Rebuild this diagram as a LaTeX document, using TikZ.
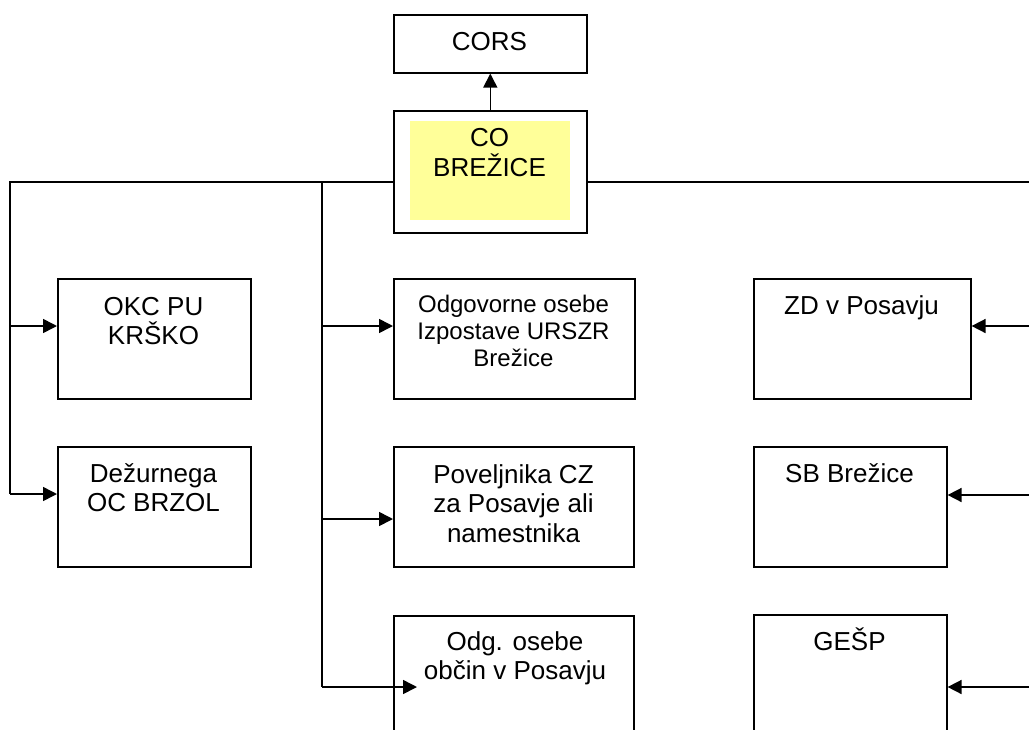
\documentclass[tikz,border=0pt]{standalone}
\usepackage{fontspec}
\setmainfont{Liberation Sans}
\usetikzlibrary{arrows.meta}
\definecolor{hl}{HTML}{FFFF99}
\begin{document}
\begin{tikzpicture}[x=1pt,y=-1pt,
  box/.style={draw, line width=1.6pt, inner sep=0pt, anchor=north west},
  lbl/.style={font=\fontsize{26}{29.5}\selectfont, align=center, anchor=north, inner sep=0pt},
  lbls/.style={font=\fontsize{24}{27}\selectfont, align=center, anchor=north, inner sep=0pt},
  conn/.style={line width=1.6pt},
  arr/.style={conn, -{Triangle[length=14pt,width=14pt]}}]
\clip (0,0) rectangle (1029,729);
\fill[white] (0,0) rectangle (1029,729);
% highlight inside CO box
\fill[hl] (410,121) rectangle (570,220);
% boxes
\node[box, minimum width=193pt, minimum height=58pt] (cors) at (393,14) {};
\node[box, minimum width=193pt, minimum height=122pt] (co) at (393,110) {};
\node[box, minimum width=193pt, minimum height=120pt] (okc) at (57,278) {};
\node[box, minimum width=193pt, minimum height=120pt] (dez) at (57,446) {};
\node[box, minimum width=241pt, minimum height=120pt] (odgov) at (393,278) {};
\node[box, minimum width=240pt, minimum height=120pt] (pov) at (393,446) {};
\node[box, minimum width=240pt, minimum height=140pt] (odg) at (393,615) {};
\node[box, minimum width=217pt, minimum height=120pt] (zd) at (753,278) {};
\node[box, minimum width=193pt, minimum height=120pt] (sb) at (753,446) {};
\node[box, minimum width=193pt, minimum height=140pt] (gesp) at (753,614) {};
% texts
\node[lbl] (corsT) at (489.5,24) {\rule{0pt}{26pt}CORS};
\node[lbl, font=\fontsize{26}{30}\selectfont] (coT) at (489.5,120) {\rule{0pt}{26pt}CO\\BREŽICE};
\node[lbl] (okcT) at (153.5,289) {\rule{0pt}{26pt}OKC PU\\KRŠKO};
\node[lbl] (dezT) at (153.5,456) {\rule{0pt}{26pt}Dežurnega\\OC BRZOL};
\node[lbls] (odgovT) at (513.5,288) {\rule{0pt}{24pt}Odgovorne osebe\\Izpostave URSZR\\Brežice};
\node[lbl] (povT) at (513.5,457) {\rule{0pt}{26pt}Poveljnika CZ\\za Posavje ali\\namestnika};
\node[lbl] (odgT) at (515,624) {\rule{0pt}{26pt}Odg. osebe\\občin v Posavju};
\node[lbl] (zdT) at (861.5,288) {\rule{0pt}{26pt}ZD v Posavju};
\node[lbl] (sbT) at (849.5,456) {\rule{0pt}{26pt}SB Brežice};
\node[lbl] (gespT) at (849.5,624) {\rule{0pt}{26pt}GEŠP};
% junction coordinates
\coordinate (jL) at (10,182);
\coordinate (jM) at (322,182);
\coordinate (jR) at (1035,182);
\coordinate (eL1) at (10,326);
\coordinate (eL2) at (10,494);
\coordinate (eM1) at (322,326);
\coordinate (eM2) at (322,519);
\coordinate (eM3) at (322,687);
\coordinate (tipM3) at (417,687);
\coordinate (eR1) at (1035,326);
\coordinate (eR2) at (1035,495);
\coordinate (eR3) at (1035,687);
% connectors
\draw[arr] (co.north) -- (cors.south);
\draw[conn, line join=miter] (co.west |- jL) -- (jL) -- (eL2);
\draw[conn] (jM) -- (eM3);
\draw[conn] (co.east |- jR) -- (jR);
\draw[arr] (eL1) -- (eL1 -| okc.west);
\draw[arr] (eL2) -- (eL2 -| dez.west);
\draw[arr] (eM1) -- (eM1 -| odgov.west);
\draw[arr] (eM2) -- (eM2 -| pov.west);
\draw[arr] (eM3) -- (tipM3);
\draw[arr] (eR1) -- (eR1 -| zd.east);
\draw[arr] (eR2) -- (eR2 -| sb.east);
\draw[arr] (eR3) -- (eR3 -| gesp.east);
\end{tikzpicture}
\end{document}
